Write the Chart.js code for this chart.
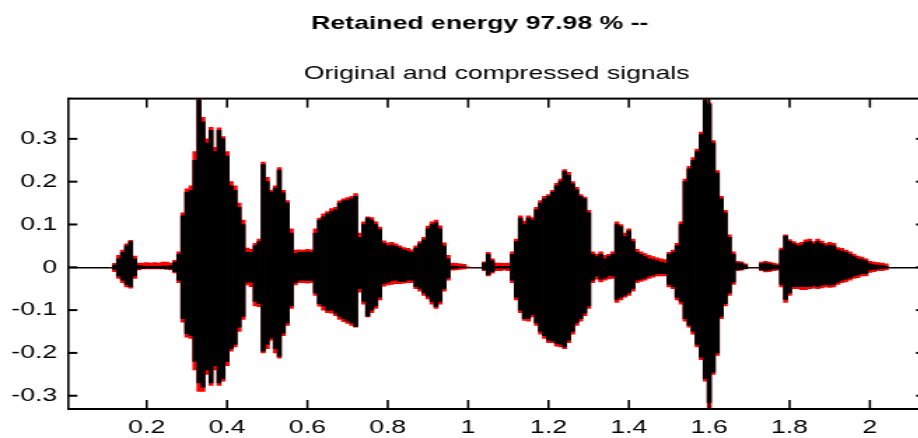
<!DOCTYPE html>
<html>
<head>
<meta charset="utf-8">
<script src="https://cdn.jsdelivr.net/npm/chart.js@4/dist/chart.umd.min.js"></script>
<style>
  html, body { margin: 0; padding: 0; background: #fff; overflow: hidden; }
</style>
</head>
<body>
<!-- the figure is a horizontally stretched screenshot, so draw narrow and stretch with css -->
<canvas id="sig" width="690" height="438" style="width:966px;height:438px"></canvas>
<script>
const STRETCH = 966 / 690;
const FONT = "'Liberation Sans', Arial, sans-serif";

const TITLE = "Retained energy 97.98 % --";
const SUBTITLE = "Original and compressed signals";

// axis limits (seconds / amplitude)
const X_MIN = 0.005, X_MAX = 2.137;
const Y_MIN = -0.331, Y_MAX = 0.394;

// sample times of the envelope readings (s)
const times = [
    0.11, 0.12, 0.13, 0.14, 0.15, 0.16, 0.17, 0.18, 0.19, 0.20,
    0.21, 0.22, 0.23, 0.24, 0.25, 0.26, 0.27, 0.28, 0.29, 0.30,
    0.31, 0.32, 0.33, 0.34, 0.35, 0.36, 0.37, 0.38, 0.39, 0.40,
    0.41, 0.42, 0.43, 0.44, 0.45, 0.46, 0.47, 0.48, 0.49, 0.50,
    0.51, 0.52, 0.53, 0.54, 0.55, 0.56, 0.57, 0.58, 0.59, 0.60,
    0.61, 0.62, 0.63, 0.64, 0.65, 0.66, 0.67, 0.68, 0.69, 0.70,
    0.71, 0.72, 0.73, 0.74, 0.75, 0.76, 0.77, 0.78, 0.79, 0.80,
    0.81, 0.82, 0.83, 0.84, 0.85, 0.86, 0.87, 0.88, 0.89, 0.90,
    0.91, 0.92, 0.93, 0.94, 0.95, 0.96, 0.97, 0.98, 0.99, 1.00,
    1.01, 1.02, 1.03, 1.04, 1.05, 1.06, 1.07, 1.08, 1.09, 1.10,
    1.11, 1.12, 1.13, 1.14, 1.15, 1.16, 1.17, 1.18, 1.19, 1.20,
    1.21, 1.22, 1.23, 1.24, 1.25, 1.26, 1.27, 1.28, 1.29, 1.30,
    1.31, 1.32, 1.33, 1.34, 1.35, 1.36, 1.37, 1.38, 1.39, 1.40,
    1.41, 1.42, 1.43, 1.44, 1.45, 1.46, 1.47, 1.48, 1.49, 1.50,
    1.51, 1.52, 1.53, 1.54, 1.55, 1.56, 1.57, 1.58, 1.59, 1.60,
    1.61, 1.62, 1.63, 1.64, 1.65, 1.66, 1.67, 1.68, 1.69, 1.70,
    1.71, 1.72, 1.73, 1.74, 1.75, 1.76, 1.77, 1.78, 1.79, 1.80,
    1.81, 1.82, 1.83, 1.84, 1.85, 1.86, 1.87, 1.88, 1.89, 1.90,
    1.91, 1.92, 1.93, 1.94, 1.95, 1.96, 1.97, 1.98, 1.99, 2.00,
    2.01, 2.02, 2.03, 2.04, 2.05
];

// compressed signal (black): upper / lower envelope
const compHi = [
    0, 0.005, 0.02, 0.035, 0.05, 0.06, 0.02, 0.004, 0.003, 0.002,
    0.002, 0.002, 0.002, 0.003, 0.003, 0.004, 0.012, 0.03, 0.12, 0.175,
    0.18, 0.25, 0.39, 0.34, 0.29, 0.32, 0.27, 0.32, 0.3, 0.26,
    0.19, 0.18, 0.14, 0.1, 0.035, 0.035, 0.05, 0.06, 0.24, 0.2,
    0.175, 0.185, 0.227, 0.174, 0.15, 0.08, 0.032, 0.035, 0.035, 0.036,
    0.035, 0.08, 0.11, 0.118, 0.125, 0.13, 0.134, 0.15, 0.155, 0.157,
    0.16, 0.166, 0.07, 0.1, 0.115, 0.11, 0.1, 0.088, 0.056, 0.05,
    0.052, 0.049, 0.045, 0.04, 0.038, 0.035, 0.045, 0.055, 0.064, 0.09,
    0.1, 0.104, 0.09, 0.05, 0.02, 0.003, 0.002, 0.001, 0.001, 0,
    0, 0, 0, 0.01, 0.03, 0.015, 0.002, 0.002, 0.002, 0.002,
    0.03, 0.06, 0.115, 0.1, 0.115, 0.11, 0.134, 0.15, 0.16, 0.166,
    0.175, 0.19, 0.2, 0.224, 0.215, 0.195, 0.181, 0.166, 0.16, 0.127,
    0.03, 0.025, 0.03, 0.02, 0.025, 0.03, 0.1, 0.095, 0.072, 0.085,
    0.06, 0.035, 0.03, 0.025, 0.02, 0.018, 0.015, 0.012, 0.01, 0.03,
    0.035, 0.05, 0.1, 0.2, 0.23, 0.25, 0.27, 0.31, 0.39, 0.38,
    0.29, 0.22, 0.16, 0.127, 0.07, 0.03, 0.01, 0.01, 0.005, 0,
    0, 0, 0.008, 0.01, 0.008, 0.005, 0.004, 0.04, 0.073, 0.06,
    0.055, 0.05, 0.052, 0.058, 0.06, 0.055, 0.06, 0.055, 0.05, 0.052,
    0.05, 0.04, 0.038, 0.035, 0.03, 0.025, 0.02, 0.018, 0.015, 0.008,
    0.006, 0.005, 0.004, 0.002, 0
];
const compLo = [
    0, -0.005, -0.02, -0.03, -0.04, -0.045, -0.02, -0.004, -0.003, -0.002,
    -0.002, -0.002, -0.002, -0.003, -0.003, -0.004, -0.01, -0.03, -0.12, -0.155,
    -0.16, -0.22, -0.27, -0.28, -0.24, -0.27, -0.23, -0.27, -0.26, -0.22,
    -0.19, -0.18, -0.14, -0.115, -0.035, -0.035, -0.08, -0.085, -0.196, -0.18,
    -0.165, -0.19, -0.208, -0.154, -0.13, -0.09, -0.036, -0.03, -0.03, -0.031,
    -0.03, -0.06, -0.085, -0.09, -0.1, -0.1, -0.107, -0.115, -0.12, -0.125,
    -0.13, -0.138, -0.05, -0.08, -0.114, -0.1, -0.09, -0.07, -0.038, -0.035,
    -0.032, -0.03, -0.033, -0.033, -0.03, -0.03, -0.045, -0.05, -0.06, -0.068,
    -0.08, -0.092, -0.08, -0.05, -0.025, -0.003, -0.002, -0.001, -0.001, 0,
    0, 0, 0, -0.005, -0.017, -0.01, -0.002, -0.002, -0.002, -0.002,
    -0.03, -0.07, -0.1, -0.12, -0.12, -0.11, -0.13, -0.15, -0.16, -0.17,
    -0.172, -0.178, -0.18, -0.186, -0.17, -0.15, -0.13, -0.12, -0.107, -0.09,
    -0.03, -0.02, -0.028, -0.025, -0.02, -0.02, -0.075, -0.07, -0.065, -0.06,
    -0.05, -0.03, -0.028, -0.025, -0.02, -0.018, -0.015, -0.015, -0.015, -0.04,
    -0.045, -0.07, -0.08, -0.12, -0.135, -0.15, -0.18, -0.21, -0.26, -0.316,
    -0.245, -0.2, -0.115, -0.085, -0.06, -0.035, -0.005, -0.005, -0.003, 0,
    0, 0, -0.005, -0.008, -0.006, -0.004, -0.004, -0.04, -0.075, -0.06,
    -0.045, -0.045, -0.045, -0.045, -0.045, -0.043, -0.045, -0.042, -0.04, -0.042,
    -0.04, -0.035, -0.03, -0.028, -0.025, -0.02, -0.018, -0.015, -0.015, -0.006,
    -0.005, -0.004, -0.003, -0.002, 0
];

// original signal (red): upper / lower envelope
const origHi = [
    0, 0.009, 0.028, 0.04, 0.055, 0.063, 0.026, 0.01, 0.01, 0.011,
    0.01, 0.011, 0.01, 0.012, 0.012, 0.01, 0.016, 0.036, 0.127, 0.183,
    0.19, 0.27, 0.395, 0.35, 0.3, 0.327, 0.28, 0.326, 0.305, 0.27,
    0.2, 0.19, 0.15, 0.11, 0.045, 0.042, 0.056, 0.066, 0.246, 0.21,
    0.18, 0.19, 0.233, 0.18, 0.156, 0.09, 0.04, 0.041, 0.04, 0.042,
    0.041, 0.09, 0.115, 0.125, 0.13, 0.137, 0.14, 0.155, 0.16, 0.163,
    0.166, 0.172, 0.08, 0.106, 0.118, 0.116, 0.106, 0.094, 0.062, 0.057,
    0.058, 0.055, 0.05, 0.046, 0.044, 0.041, 0.05, 0.06, 0.07, 0.096,
    0.106, 0.11, 0.097, 0.057, 0.028, 0.01, 0.009, 0.008, 0.007, 0.001,
    0, 0, 0, 0.013, 0.035, 0.02, 0.01, 0.01, 0.009, 0.01,
    0.036, 0.066, 0.12, 0.108, 0.12, 0.116, 0.14, 0.156, 0.166, 0.17,
    0.18, 0.196, 0.206, 0.228, 0.222, 0.2, 0.187, 0.17, 0.164, 0.133,
    0.036, 0.031, 0.036, 0.028, 0.03, 0.036, 0.106, 0.1, 0.08, 0.09,
    0.066, 0.042, 0.036, 0.032, 0.028, 0.025, 0.022, 0.02, 0.018, 0.035,
    0.04, 0.056, 0.106, 0.206, 0.236, 0.256, 0.276, 0.316, 0.394, 0.384,
    0.296, 0.226, 0.166, 0.133, 0.076, 0.036, 0.014, 0.013, 0.008, 0,
    0, 0, 0.012, 0.014, 0.012, 0.01, 0.008, 0.045, 0.076, 0.065,
    0.06, 0.056, 0.058, 0.064, 0.066, 0.06, 0.066, 0.061, 0.056, 0.058,
    0.056, 0.046, 0.044, 0.04, 0.036, 0.031, 0.026, 0.024, 0.02, 0.014,
    0.012, 0.011, 0.01, 0.008, 0
];
const origLo = [
    0, -0.01, -0.026, -0.036, -0.046, -0.049, -0.026, -0.006, -0.004, -0.004,
    -0.004, -0.004, -0.004, -0.004, -0.005, -0.006, -0.013, -0.036, -0.128, -0.163,
    -0.166, -0.24, -0.29, -0.29, -0.25, -0.276, -0.24, -0.276, -0.266, -0.23,
    -0.196, -0.186, -0.15, -0.122, -0.041, -0.045, -0.09, -0.092, -0.2, -0.19,
    -0.17, -0.2, -0.212, -0.16, -0.136, -0.096, -0.041, -0.036, -0.036, -0.037,
    -0.036, -0.066, -0.091, -0.1, -0.106, -0.107, -0.113, -0.122, -0.127, -0.131,
    -0.136, -0.14, -0.058, -0.086, -0.116, -0.106, -0.096, -0.076, -0.044, -0.041,
    -0.04, -0.038, -0.038, -0.037, -0.036, -0.036, -0.05, -0.056, -0.066, -0.074,
    -0.086, -0.096, -0.086, -0.056, -0.03, -0.007, -0.006, -0.005, -0.004, -0.001,
    0, 0, 0, -0.008, -0.02, -0.014, -0.008, -0.008, -0.007, -0.008,
    -0.036, -0.076, -0.106, -0.124, -0.126, -0.116, -0.136, -0.156, -0.166, -0.176,
    -0.176, -0.184, -0.186, -0.19, -0.176, -0.156, -0.136, -0.126, -0.113, -0.096,
    -0.036, -0.028, -0.034, -0.03, -0.027, -0.026, -0.082, -0.076, -0.07, -0.066,
    -0.056, -0.036, -0.033, -0.03, -0.026, -0.023, -0.02, -0.02, -0.02, -0.046,
    -0.05, -0.076, -0.086, -0.126, -0.14, -0.156, -0.186, -0.216, -0.266, -0.328,
    -0.25, -0.206, -0.12, -0.09, -0.066, -0.04, -0.008, -0.007, -0.004, 0,
    0, 0, -0.008, -0.011, -0.01, -0.008, -0.007, -0.046, -0.082, -0.066,
    -0.05, -0.05, -0.052, -0.052, -0.05, -0.049, -0.05, -0.048, -0.046, -0.047,
    -0.046, -0.04, -0.036, -0.034, -0.03, -0.026, -0.024, -0.02, -0.02, -0.012,
    -0.01, -0.008, -0.008, -0.006, 0
];

function envelope(lo, hi) {
    return times.map((t, i) => ({ x: t, y: [lo[i], hi[i]] }));
}

function tickLabel(v) {
    return String(Math.round(v * 10) / 10);
}

// matlab style box with inward tick marks on all four sides
const axisBox = {
    id: 'axisBox',
    afterDraw(chart) {
        const { ctx, chartArea: a, scales } = chart;
        const vw = 2.2 / STRETCH;   // vertical stroke width in canvas px
        const yLen = 9 / STRETCH;   // y tick length
        const xLen = 9;
        ctx.save();
        ctx.fillStyle = '#000';
        ctx.fillRect(a.left, a.top - 1, a.width, 2);
        ctx.fillRect(a.left, a.bottom - 1, a.width, 2);
        ctx.fillRect(a.left - vw / 2, a.top - 1, vw, a.height + 2);
        ctx.fillRect(a.right - vw / 2, a.top - 1, vw, a.height + 2);
        scales.x.ticks.forEach(t => {
            const px = scales.x.getPixelForValue(t.value);
            ctx.fillRect(px - vw / 2, a.bottom - xLen, vw, xLen);
            ctx.fillRect(px - vw / 2, a.top, vw, xLen);
        });
        scales.y.ticks.forEach(t => {
            const py = scales.y.getPixelForValue(t.value);
            ctx.fillRect(a.left, py - 1, yLen, 2);
            ctx.fillRect(a.right - yLen, py - 1, yLen, 2);
        });
        ctx.restore();
    }
};

const ctx = document.getElementById("sig").getContext("2d");
const chart = new Chart(ctx, {
    type: 'bar',
    data: {
        datasets: [
            {
                label: 'Compressed',
                data: envelope(compLo, compHi),
                backgroundColor: '#000000',
                order: 0
            },
            {
                label: 'Original',
                data: envelope(origLo, origHi),
                backgroundColor: '#ff0000',
                order: 1
            }
        ]
    },
    options: {
        responsive: false,
        devicePixelRatio: 1,
        animation: false,
        events: [],
        grouped: false,
        barPercentage: 1,
        categoryPercentage: 1,
        borderWidth: 0,
        layout: { padding: { left: 0, right: 4.6, top: 0, bottom: 0 } },
        scales: {
            x: {
                type: 'linear',
                min: X_MIN,
                max: X_MAX,
                offset: false,
                grid: { display: false, drawTicks: false },
                border: { display: false },
                ticks: {
                    stepSize: 0.2,
                    includeBounds: false,
                    autoSkip: false,
                    maxRotation: 0,
                    padding: 7,
                    color: '#000',
                    font: { family: FONT, size: 19 },
                    callback: tickLabel
                },
                afterFit: s => { s.height = 29; }
            },
            y: {
                min: Y_MIN,
                max: Y_MAX,
                grid: {
                    drawTicks: false,
                    lineWidth: 1.5,
                    color: c => (c.tick && c.tick.value === 0) ? '#000' : 'rgba(0,0,0,0)'
                },
                border: { display: false },
                ticks: {
                    stepSize: 0.1,
                    includeBounds: false,
                    padding: 8,
                    color: '#000',
                    font: { family: FONT, size: 19 },
                    callback: tickLabel
                },
                afterFit: s => { s.width = 48.8; }
            },
            // empty right-hand strip (off screen) so the main title sits where matlab put it
            spacer: {
                position: 'right',
                grid: { display: false },
                border: { display: false },
                ticks: { display: false },
                afterFit: s => { s.width = 24.7; }
            }
        },
        plugins: {
            legend: { display: false },
            tooltip: { enabled: false },
            title: {
                display: true,
                text: TITLE,
                color: '#000',
                font: { family: FONT, size: 19, weight: 'bold' },
                padding: { top: 12, bottom: 0 }
            },
            subtitle: {
                display: true,
                fullSize: false,
                text: SUBTITLE,
                color: '#000',
                font: { family: FONT, size: 19, weight: 'normal' },
                padding: { top: 28, bottom: 13 }
            }
        }
    },
    plugins: [axisBox]
});
</script>
</body>
</html>
